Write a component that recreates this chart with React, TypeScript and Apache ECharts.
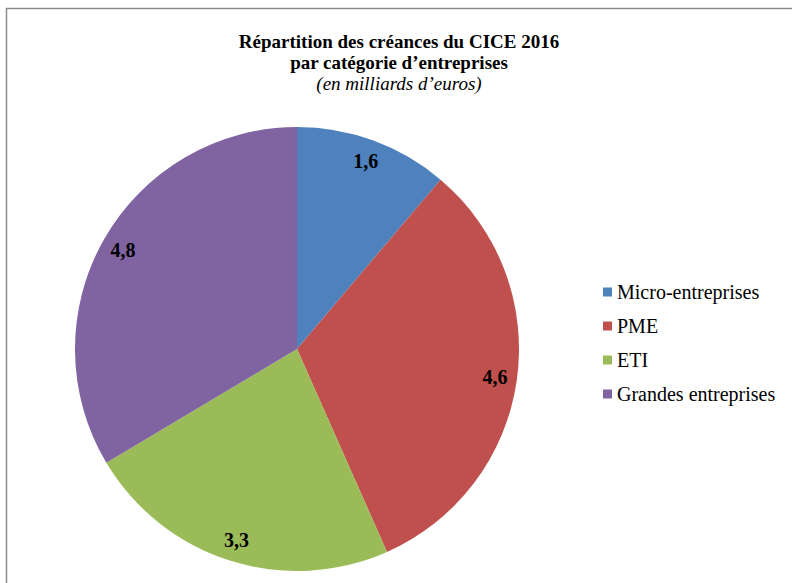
import React, { useEffect, useRef } from "react";
import * as echarts from "echarts";

const categories = ["Micro-entreprises", "PME", "ETI", "Grandes entreprises"];
const values = [1.6, 4.6, 3.3, 4.8];
const colors = ["#4F81BD", "#C0504D", "#9BBB59", "#8064A2"];
const titleLines = [
  "Répartition des créances du CICE 2016",
  "par catégorie d’entreprises",
];
const subtitle = "(en milliards d’euros)";

const FONT = "'Liberation Serif', 'Times New Roman', serif";

export default function App() {
  const ref = useRef<HTMLDivElement>(null);
  useEffect(() => {
    if (!ref.current) return;
    const chart = echarts.init(ref.current, undefined, { renderer: "svg" });
    const data = categories.map((name, i) => ({
      name,
      value: values[i],
      itemStyle: { color: colors[i] },
    }));
    chart.setOption({
      animation: false,
      backgroundColor: "#ffffff",
      graphic: [
        {
          type: "rect",
          shape: { x: 6.5, y: 8.5, width: 820, height: 620 },
          style: { fill: "none", stroke: "#8a8a8a", lineWidth: 1.5 },
          silent: true,
        },
        {
          type: "text",
          x: 399,
          y: 41,
          style: {
            text: titleLines[0],
            font: `bold 19px ${FONT}`,
            fill: "#000",
            align: "center",
            verticalAlign: "middle",
          },
        },
        {
          type: "text",
          x: 399,
          y: 62,
          style: {
            text: titleLines[1],
            font: `bold 19px ${FONT}`,
            fill: "#000",
            align: "center",
            verticalAlign: "middle",
          },
        },
        {
          type: "text",
          x: 399,
          y: 83,
          style: {
            text: subtitle,
            font: `italic 19px ${FONT}`,
            fill: "#000",
            align: "center",
            verticalAlign: "middle",
          },
        },
      ],
      legend: {
        orient: "vertical",
        left: 603,
        top: 282,
        padding: 0,
        itemWidth: 9,
        itemHeight: 9,
        itemGap: 14,
        icon: "rect",
        selectedMode: false,
        textStyle: {
          fontFamily: FONT,
          fontSize: 20,
          lineHeight: 20,
          color: "#000",
        },
        data: categories.map((name, i) => ({
          name,
          itemStyle: { color: colors[i] },
        })),
      },
      series: [
        {
          type: "pie",
          center: [297, 349],
          radius: [0, 222],
          startAngle: 90,
          clockwise: true,
          label: { show: false },
          labelLine: { show: false },
          emphasis: { disabled: true },
          itemStyle: { borderWidth: 0 },
          data,
        },
        {
          type: "pie",
          center: [297, 349],
          radius: [172, 222],
          startAngle: 90,
          clockwise: true,
          silent: true,
          itemStyle: { color: "rgba(0,0,0,0)", borderWidth: 0 },
          emphasis: { disabled: true },
          labelLine: { show: false },
          label: {
            show: true,
            position: "inside",
            fontFamily: FONT,
            fontWeight: "bold",
            fontSize: 20,
            color: "#000",
            formatter: (p: any) => String(p.value).replace(".", ","),
          },
          data: categories.map((name, i) => ({
            name,
            value: values[i],
            itemStyle: { color: "rgba(0,0,0,0)" },
          })),
        },
      ],
    });
    return () => chart.dispose();
  }, []);
  return (
    <div
      ref={ref}
      style={{ position: "absolute", left: 0, top: 0, width: 792, height: 583 }}
    />
  );
}
